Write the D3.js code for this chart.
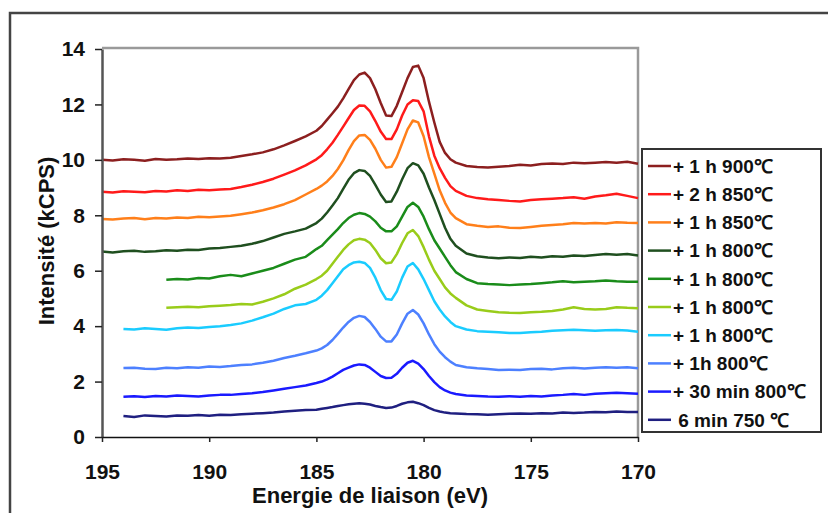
<!DOCTYPE html>
<html><head><meta charset="utf-8">
<script src="https://cdn.jsdelivr.net/npm/d3@7"></script>
<style>
body{margin:0;background:#fff}
svg{display:block}
text{font-family:"Liberation Sans",Arial,sans-serif;font-weight:bold;fill:#111}
</style>
</head><body>
<svg id="c" width="828" height="513"></svg>
<script>
// Binding energy grid (eV)
const energies = [195,194.5,194,193.5,193,192.5,192,191.5,191,190.5,190,189.5,189,188.5,188,187.5,187,186.5,186,185.5,185,
 184.75,184.5,184.25,184,183.75,183.5,183.25,183,182.75,182.5,182.25,182,181.75,181.5,181.25,181,180.75,180.5,180.25,180,179.75,179.5,179.25,179,178.75,178.5,
 178,177.5,177,176.5,176,175.5,175,174.5,174,173.5,173,172.5,172,171.5,171,170.5,170];

const s900 = [10.0,9.98,10.02,10.0,9.97,10.03,10.0,10.02,10.05,10.03,10.06,10.05,10.08,10.14,10.2,10.27,10.38,10.52,10.68,10.85,11.05,
 11.22,11.45,11.68,11.92,12.22,12.55,12.88,13.08,13.15,12.95,12.55,12.05,11.6,11.58,11.95,12.45,12.95,13.35,13.4,12.95,12.1,11.35,10.65,10.25,10.02,9.9,
 9.78,9.74,9.72,9.75,9.78,9.82,9.8,9.85,9.87,9.85,9.9,9.88,9.9,9.92,9.9,9.93,9.86];
const s850b = [8.85,8.82,8.87,8.85,8.83,8.88,8.86,8.9,8.88,8.92,8.9,8.93,8.95,9.02,9.1,9.2,9.32,9.47,9.62,9.8,10.02,
 10.17,10.38,10.62,10.9,11.2,11.5,11.8,11.96,11.95,11.75,11.4,11.02,10.75,10.75,11.1,11.6,12.0,12.15,12.12,11.75,10.85,10.15,9.7,9.35,9.05,8.88,
 8.7,8.62,8.58,8.55,8.52,8.5,8.55,8.58,8.6,8.62,8.65,8.6,8.68,8.72,8.78,8.7,8.62];
const s850a = [7.87,7.85,7.88,7.9,7.86,7.9,7.88,7.92,7.9,7.95,7.93,7.96,7.98,8.04,8.1,8.18,8.28,8.4,8.55,8.75,8.95,
 9.07,9.22,9.42,9.67,9.98,10.35,10.68,10.88,10.9,10.72,10.4,10.0,9.72,9.75,10.1,10.6,11.1,11.42,11.35,10.85,10.1,9.5,8.9,8.45,8.1,7.9,
 7.68,7.62,7.58,7.6,7.55,7.54,7.58,7.62,7.65,7.68,7.72,7.7,7.72,7.7,7.75,7.73,7.72];
const s800d = [6.69,6.66,6.7,6.72,6.68,6.7,6.74,6.72,6.76,6.75,6.8,6.82,6.86,6.9,6.97,7.07,7.2,7.33,7.42,7.52,7.72,
 7.88,8.1,8.35,8.62,8.95,9.28,9.52,9.63,9.6,9.42,9.1,8.75,8.48,8.5,8.85,9.3,9.7,9.88,9.8,9.5,9.0,8.55,8.05,7.55,7.15,6.9,
 6.62,6.52,6.48,6.45,6.48,6.46,6.5,6.48,6.52,6.5,6.55,6.53,6.57,6.6,6.58,6.6,6.55];
const s800c = [null,null,null,null,null,null,5.67,5.7,5.68,5.74,5.72,5.8,5.85,5.8,5.9,6.0,6.1,6.25,6.4,6.5,6.78,
 6.9,7.1,7.3,7.5,7.72,7.9,8.02,8.08,8.05,7.95,7.78,7.55,7.42,7.42,7.6,7.95,8.3,8.45,8.3,7.95,7.5,7.1,6.8,6.5,6.2,5.95,
 5.7,5.55,5.52,5.5,5.48,5.5,5.52,5.55,5.58,5.62,5.58,5.6,5.62,5.65,5.62,5.6,5.6];
const s800b = [null,null,null,null,null,null,4.66,4.68,4.7,4.68,4.72,4.74,4.76,4.8,4.78,4.88,5.0,5.15,5.35,5.5,5.7,
 5.82,6.0,6.25,6.5,6.75,6.95,7.1,7.15,7.12,7.0,6.75,6.45,6.27,6.3,6.6,7.0,7.35,7.47,7.25,6.85,6.4,6.0,5.7,5.4,5.18,5.02,
 4.75,4.6,4.55,4.5,4.48,4.47,4.5,4.52,4.55,4.6,4.68,4.62,4.6,4.62,4.68,4.66,4.65];
const s800a = [null,null,3.9,3.88,3.92,3.9,3.87,3.92,3.95,3.93,3.97,4.0,4.04,4.1,4.2,4.32,4.45,4.62,4.75,4.8,4.95,
 5.1,5.3,5.55,5.8,6.05,6.2,6.3,6.32,6.28,6.1,5.75,5.3,4.98,4.95,5.25,5.75,6.15,6.28,6.05,5.7,5.3,4.9,4.6,4.35,4.15,4.0,
 3.88,3.82,3.8,3.78,3.75,3.75,3.78,3.8,3.83,3.85,3.87,3.85,3.83,3.85,3.86,3.84,3.8];
const s800e = [null,null,2.49,2.5,2.46,2.45,2.5,2.48,2.52,2.5,2.54,2.53,2.56,2.6,2.62,2.68,2.75,2.85,2.93,3.02,3.12,
 3.2,3.32,3.5,3.72,3.95,4.15,4.3,4.37,4.33,4.15,3.9,3.62,3.45,3.45,3.7,4.1,4.45,4.58,4.42,4.1,3.7,3.35,3.08,2.88,2.72,2.6,
 2.52,2.48,2.45,2.42,2.43,2.42,2.45,2.46,2.44,2.48,2.5,2.47,2.5,2.52,2.5,2.52,2.48];
const s30 = [null,null,1.45,1.47,1.44,1.48,1.46,1.5,1.48,1.46,1.5,1.52,1.52,1.55,1.58,1.62,1.68,1.74,1.8,1.86,1.95,
 2.0,2.08,2.18,2.3,2.42,2.5,2.58,2.62,2.6,2.5,2.35,2.2,2.13,2.14,2.28,2.5,2.68,2.75,2.65,2.45,2.2,1.98,1.8,1.68,1.6,1.55,
 1.5,1.48,1.46,1.45,1.47,1.45,1.48,1.46,1.5,1.52,1.55,1.52,1.56,1.58,1.6,1.58,1.56];
const s6 = [null,null,0.76,0.72,0.78,0.76,0.74,0.78,0.77,0.79,0.77,0.8,0.79,0.82,0.84,0.86,0.88,0.92,0.95,0.97,0.98,
 1.02,1.05,1.08,1.12,1.15,1.18,1.2,1.22,1.2,1.17,1.12,1.08,1.05,1.06,1.12,1.2,1.25,1.27,1.22,1.15,1.05,0.97,0.92,0.88,0.86,0.85,
 0.83,0.82,0.8,0.82,0.84,0.85,0.84,0.86,0.85,0.88,0.87,0.88,0.9,0.89,0.92,0.9,0.9];

const seriesLabels = ["+ 1 h 900\u2103","+ 2 h 850\u2103","+ 1 h 850\u2103","+ 1 h 800\u2103","+ 1 h 800\u2103","+ 1 h 800\u2103","+ 1 h 800\u2103","+ 1h 800\u2103","+ 30 min 800\u2103"," 6 min 750 \u2103"];
const seriesValues = [s900,s850b,s850a,s800d,s800c,s800b,s800a,s800e,s30,s6];
const seriesColors = ["#8c1f1f","#ff1a1a","#ff7f1a","#1f4f1f","#1a8c1a","#99cc1a","#1accff","#4d80ff","#1a1aff","#1f1f80"];
const xTicks = [195,190,185,180,175,170];
const yTicks = [0,2,4,6,8,10,12,14];

const svg = d3.select("#c");
const x = d3.scaleLinear().domain([195,170]).range([102,638]);
const y = d3.scaleLinear().domain([0,14]).range([437,49]);

// outer frame
svg.append("path").attr("d","M10,514V13H829").attr("fill","none").attr("stroke","#444").attr("stroke-width",2.5);

// plot border top/right
svg.append("path").attr("d",`M${x(195)},${y(14)-1}H${x(170)}V${y(0)}`).attr("fill","none").attr("stroke","#9a9a9a").attr("stroke-width",2.5);

// series
const line = d3.line().defined(d=>d[1]!=null).x(d=>x(d[0])).y(d=>y(d[1]));
seriesValues.forEach((vals,i)=>{
  const pts = energies.map((e,j)=>[e,vals[j]]);
  svg.append("path").datum(pts).attr("d",line).attr("fill","none")
    .attr("stroke",seriesColors[i]).attr("stroke-width",2.5).attr("stroke-linejoin","round");
});

// axes
const gy = svg.append("g").attr("transform",`translate(${x(195)},0)`)
  .call(d3.axisLeft(y).tickValues(yTicks).tickSize(7).tickSizeOuter(0).tickPadding(10).tickFormat(d3.format("d")));
gy.select(".domain").attr("stroke","#555").attr("stroke-width",2.5);
gy.selectAll(".tick line").attr("stroke","#222").attr("stroke-width",1.5);
gy.selectAll("text").attr("font-size",21).attr("font-family",'"Liberation Sans",Arial,sans-serif').attr("font-weight","bold").attr("fill","#111");

const gx = svg.append("g").attr("transform",`translate(0,${y(0)})`)
  .call(d3.axisBottom(x).tickValues(xTicks).tickSize(5).tickSizeOuter(0).tickPadding(22).tickFormat(d3.format("d")));
gx.select(".domain").attr("stroke","#111").attr("stroke-width",1.5);
gx.selectAll(".tick line").attr("stroke","#222").attr("stroke-width",1.5);
gx.selectAll("text").attr("font-size",21).attr("font-family",'"Liberation Sans",Arial,sans-serif').attr("font-weight","bold").attr("fill","#111");

// axis titles
svg.append("text").attr("x",370).attr("y",503).attr("text-anchor","middle").attr("font-size",22).text("Energie de liaison (eV)");
svg.append("text").attr("transform","translate(54,241) rotate(-90)").attr("text-anchor","middle").attr("font-size",22).text("Intensité (kCPS)");

// legend
const lg = svg.append("g");
lg.append("rect").attr("x",642).attr("y",149).attr("width",179).attr("height",283).attr("fill","#fff").attr("stroke","#333").attr("stroke-width",2);
seriesLabels.forEach((lab,i)=>{
  const cy = 166 + i*28.2;
  lg.append("line").attr("x1",648).attr("x2",671).attr("y1",cy).attr("y2",cy).attr("stroke",seriesColors[i]).attr("stroke-width",2.5);
  lg.append("text").attr("x",673).attr("y",cy).attr("dy","0.36em").attr("font-size",19).style("white-space","pre").text(lab);
});
</script>
</body></html>
